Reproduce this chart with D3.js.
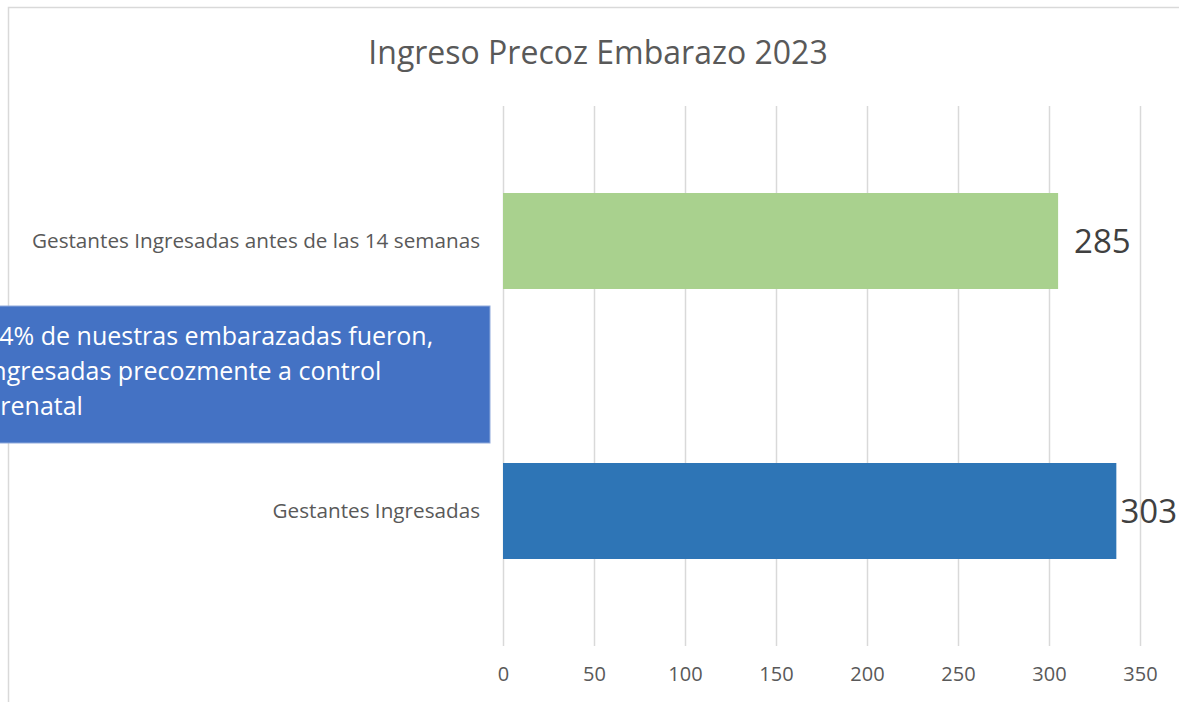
<!DOCTYPE html>
<html>
<head>
<meta charset="utf-8">
<script src="https://cdn.jsdelivr.net/npm/d3@7"></script>
<style>
  body { margin: 0; background: #fff; overflow: hidden; }
  svg { display: block; font-family: "Open Sans", sans-serif; }
</style>
</head>
<body>
<div id="chart"></div>
<script>
// 1: DATA
const categories = ["Gestantes Ingresadas antes de las 14 semanas", "Gestantes Ingresadas"];
const barValues = [305, 337];          // bar lengths as drawn on the axis
const labelValues = ["285", "303"];    // data labels shown next to bars
const barColors = ["#a9d18e", "#2e75b6"];
const tickValues = [0, 50, 100, 150, 200, 250, 300, 350];
const noteLines = ["94% de nuestras embarazadas fueron,", "ingresadas precozmente a control", "prenatal"];

const W = 1179, H = 702;

const svg = d3.select("#chart")
    .append("svg")
    .attr("width", W)
    .attr("height", H);

// chart frame
svg.append("rect")
    .attr("x", 8.5).attr("y", 7.5)
    .attr("width", W + 20).attr("height", H + 20)
    .attr("fill", "#fff")
    .attr("stroke", "#d9d9d9")
    .attr("stroke-width", 1.5);

// 2: SCALES
const x = d3.scaleLinear().domain([0, 350]).range([503, 1140]);
const y = d3.scaleBand().domain(categories).range([106, 646]).padding(0);
const barH = 96;

// 3: GRIDLINES + AXIS
svg.append("g")
    .attr("transform", "translate(0,646)")
    .call(d3.axisBottom(x).tickValues(tickValues).tickSize(-540).tickPadding(21))
    .call(g => g.select(".domain").remove())
    .call(g => g.selectAll(".tick line").attr("stroke", "#d9d9d9").attr("stroke-width", 1.5))
    .call(g => g.selectAll(".tick text")
        .attr("fill", "#595959")
        .style("font-family", "'Open Sans', sans-serif")
        .style("font-size", "20px"));

// 4: BARS
svg.selectAll(".bar")
    .data(categories)
    .enter()
    .append("rect")
    .attr("class", "bar")
    .attr("x", x(0))
    .attr("y", d => y(d) + (y.bandwidth() - barH) / 2)
    .attr("width", (d, i) => x(barValues[i]) - x(0))
    .attr("height", barH)
    .attr("fill", (d, i) => barColors[i]);

// data labels (kept inside the chart area like Excel does)
svg.selectAll(".val")
    .data(categories)
    .enter()
    .append("text")
    .attr("y", d => y(d) + y.bandwidth() / 2)
    .attr("dy", "0.36em")
    .attr("fill", "#404040")
    .style("font-size", "33px")
    .text((d, i) => labelValues[i])
    .attr("x", function (d, i) {
        const w = this.getComputedTextLength();
        return Math.min(x(barValues[i]) + 16, W - 2 - w);
    });

// category labels
svg.selectAll(".cat")
    .data(categories)
    .enter()
    .append("text")
    .attr("x", 480)
    .attr("y", d => y(d) + y.bandwidth() / 2)
    .attr("dy", "0.36em")
    .attr("text-anchor", "end")
    .attr("fill", "#595959")
    .style("font-size", "20.7px")
    .text(d => d);

// 5: TITLE
svg.append("text")
    .attr("x", 598)
    .attr("y", 52)
    .attr("dy", "0.36em")
    .attr("text-anchor", "middle")
    .attr("fill", "#595959")
    .style("font-size", "32px")
    .text("Ingreso Precoz Embarazo 2023");

// 6: NOTE BOX
svg.append("rect")
    .attr("x", -20).attr("y", 306)
    .attr("width", 510).attr("height", 137)
    .attr("fill", "#4472c4")
    .attr("stroke", "#8faadc")
    .attr("stroke-width", 1);

svg.append("g")
    .selectAll("text")
    .data(noteLines)
    .enter()
    .append("text")
    .attr("x", -15)
    .attr("y", (d, i) => 336 + i * 35)
    .attr("dy", "0.36em")
    .attr("fill", "#fff")
    .style("font-size", "25px")
    .text(d => d);
</script>
</body>
</html>
